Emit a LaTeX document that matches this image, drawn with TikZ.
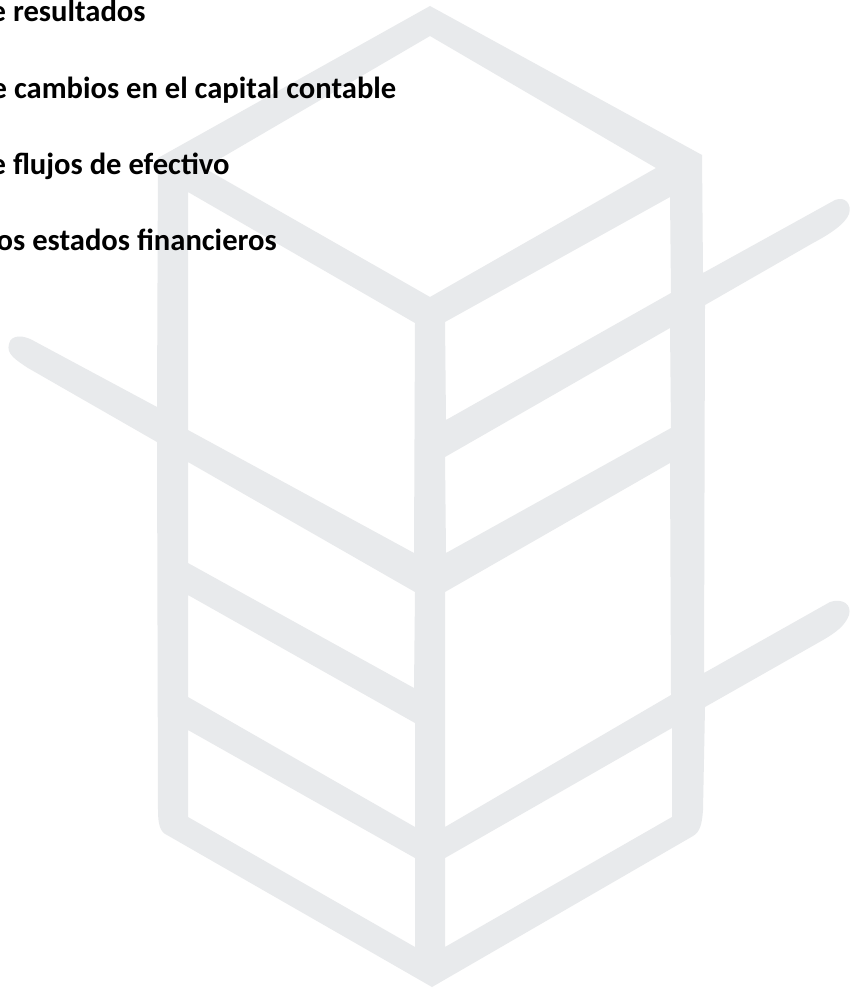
\documentclass[tikz,border=0pt]{standalone}
\usepackage{fontspec}
\setmainfont{Carlito}
\definecolor{mark}{HTML}{E8EAEC}
\tikzset{
  logo/.style={fill=mark,draw=none,even odd rule},
  heading/.style={anchor=base west,inner sep=0pt,font=\fontsize{30.6}{34}\selectfont\bfseries,text=black}
}
\begin{document}
\begin{tikzpicture}[x=1pt,y=-1pt]
\useasboundingbox (0,0) rectangle (850,990);
\fill[white] (0,0) rectangle (850,990);
\path[logo]
  % silhouette
  (430,6) -- (702,155) -- (703,273) -- (835,200)
  .. controls (845,196) and (852,204) .. (849,214)
  .. controls (845,224) and (830,234) .. (813,243)
  -- (705,305) -- (704,673) -- (830,602)
  .. controls (842,598) and (852,604) .. (849,615)
  .. controls (845,626) and (835,633) .. (823,640)
  -- (705,707) -- (703,810)
  .. controls (702,824) and (700,832) .. (693,836)
  -- (432,987) -- (167,835)
  .. controls (160,832) and (158,824) .. (158,810)
  -- (157,442) -- (28,368)
  .. controls (16,360) and (6,354) .. (9,344)
  .. controls (11,334) and (24,335) .. (34,341)
  -- (157,407) -- (158,158) -- cycle
  % top face
  (430,36) -- (656,168) -- (430,297) -- (204,168) -- cycle
  % left face
  (188,192) -- (415,323) -- (414,553) -- (188,430) -- cycle
  (188,462) -- (415,592) -- (414,688) -- (188,563) -- cycle
  (188,595) -- (415,723) -- (415,827) -- (188,697) -- cycle
  (188,730) -- (415,858) -- (415,947) -- (188,817) -- cycle
  % right face
  (445,322) -- (670,197) -- (671,293) -- (446,420) -- cycle
  (445,457) -- (670,328) -- (671,428) -- (446,553) -- cycle
  (445,592) -- (670,463) -- (671,695) -- (445,827) -- cycle
  (445,858) -- (672,728) -- (672,817) -- (445,947) -- cycle;
\node[heading] (t1) at (-9.5,22) {e resultados};
\node[heading] (t2) at (-8.5,98) {e cambios en el capital contable};
\node[heading] (t3) at (-9.5,174) {e flujos de efectivo};
\node[heading] (t4) at (-3.5,250) {os estados financieros};
\end{tikzpicture}
\end{document}
